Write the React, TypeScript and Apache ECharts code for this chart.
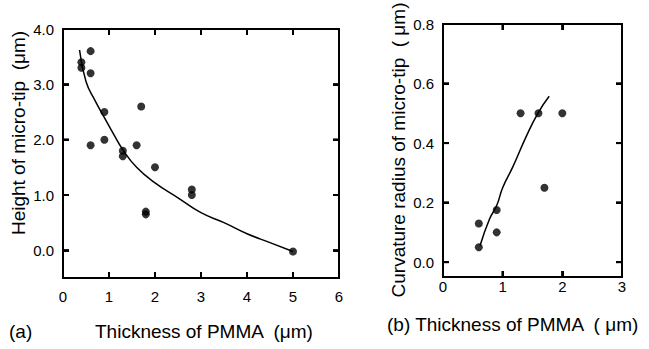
import React, { useEffect, useRef, useState } from "react";
import * as echarts from "echarts";

// Panel (a): height of micro-tip vs PMMA thickness
const heightPoints: [number, number][] = [
  [0.4, 3.4], [0.4, 3.3], [0.6, 3.6], [0.6, 3.2], [0.6, 1.9],
  [0.9, 2.5], [0.9, 2.0], [1.3, 1.8], [1.3, 1.7], [1.6, 1.9],
  [1.7, 2.6], [1.8, 0.7], [1.8, 0.65], [2.0, 1.5], [2.8, 1.1],
  [2.8, 1.0], [5.0, -0.02],
];
const heightCurve: [number, number][] = [
  [0.36, 3.62], [0.5, 3.05], [0.7, 2.7], [0.9, 2.4], [1.1, 2.1],
  [1.3, 1.82], [1.6, 1.5], [2.0, 1.22], [2.5, 0.95], [3.0, 0.68],
  [3.5, 0.5], [4.0, 0.3], [4.5, 0.14], [5.0, -0.02],
];
// Panel (b): curvature radius vs PMMA thickness
const radiusPoints: [number, number][] = [
  [0.6, 0.13], [0.6, 0.05], [0.9, 0.175], [0.9, 0.1],
  [1.3, 0.5], [1.6, 0.5], [1.7, 0.25], [2.0, 0.5],
];
const radiusCurve: [number, number][] = [
  [0.62, 0.055], [0.78, 0.145], [0.9, 0.19], [1.0, 0.25],
  [1.17, 0.32], [1.39, 0.42], [1.59, 0.5], [1.78, 0.557],
];

const thicknessTicksA = [0, 1, 2, 3, 4, 5, 6];
const thicknessTicksB = [0, 1, 2, 3];
const heightTicks = [0, 1, 2, 3, 4];
const radiusTicks = [0, 0.2, 0.4, 0.6, 0.8];

const FONT = "Liberation Sans, Arial, Helvetica, sans-serif";

const fmt1 = (v: any) => {
  const n = typeof v === "number" ? v : Number(v && v.value !== undefined ? v.value : v);
  return isFinite(n) ? n.toFixed(1) : String(v);
};

const frameRenderer = (xMin: number, xMax: number, yMin: number, yMax: number, xTicks: number[], yTicks: number[]) =>
  (_params: any, api: any) => {
    const p0 = api.coord([xMin, yMin]);
    const p1 = api.coord([xMax, yMax]);
    const left = p0[0], bottom = p0[1], right = p1[0], top = p1[1];
    const st = { stroke: "#000", lineWidth: 2 };
    const children: any[] = [
      { type: "rect", shape: { x: left, y: top, width: right - left, height: bottom - top }, style: { fill: "none", stroke: "#000", lineWidth: 2 } },
    ];
    xTicks.forEach((x) => {
      const px = api.coord([x, yMin])[0];
      children.push({ type: "line", shape: { x1: px, y1: bottom, x2: px, y2: bottom - 6 }, style: st });
      children.push({ type: "line", shape: { x1: px, y1: top, x2: px, y2: top + 6 }, style: st });
    });
    yTicks.forEach((y) => {
      const py = api.coord([xMin, y])[1];
      children.push({ type: "line", shape: { x1: left, y1: py, x2: left + 6, y2: py }, style: st });
      children.push({ type: "line", shape: { x1: right, y1: py, x2: right - 6, y2: py }, style: st });
    });
    return { type: "group", children };
  };

export default function App() {
  const ref = useRef<HTMLDivElement>(null);
  const [err, setErr] = useState("");
  useEffect(() => {
    if (!ref.current) return;
    const chart = echarts.init(ref.current, undefined, { renderer: "svg" });
    const tick = () => ({ show: true, inside: true, length: 6, lineStyle: { color: "#000", width: 2 } });
    const line = () => ({ show: true, onZero: false, lineStyle: { color: "#000", width: 2 } });
    const label = () => ({ color: "#000", fontSize: 15, fontFamily: FONT });
    const xBase = (gridIndex: number, max: number, position: string, showLabel: boolean, margin: number) => ({
      type: "value", gridIndex, min: 0, max, interval: 1, position,
      splitLine: { show: false }, axisLine: line(), axisTick: tick(),
      axisLabel: { ...label(), show: showLabel, margin },
    });
    const yBase = (gridIndex: number, min: number, max: number, ticks: number[], position: string, showLabel: boolean) => ({
      type: "value", gridIndex, min, max, position,
      splitLine: { show: false }, axisLine: line(),
      axisTick: { ...tick(), customValues: ticks.slice() },
      axisLabel: { ...label(), show: showLabel, margin: 9, customValues: ticks.slice(), formatter: fmt1 },
    });
    const textStyle = (t: string) => ({ text: t, fontSize: 19, fontFamily: FONT, fill: "#000" });
    const texts: any[] = [
      { type: "text", x: 18, y: 133, rotation: Math.PI / 2, style: { ...textStyle("Height of micro-tip  (\u03bcm)"), align: "center", verticalAlign: "middle" } },
      { type: "text", x: 398, y: 150, rotation: Math.PI / 2, style: { ...textStyle("Curvature radius of micro-tip  ( \u03bcm)"), align: "center", verticalAlign: "middle" } },
      { type: "text", x: 9, y: 331, style: { ...textStyle("(a)"), align: "left", verticalAlign: "middle" } },
      { type: "text", x: 95, y: 331, style: { ...textStyle("Thickness of PMMA  (\u03bcm)"), align: "left", verticalAlign: "middle" } },
      { type: "text", x: 387, y: 324, style: { ...textStyle("(b) Thickness of PMMA  ( \u03bcm)"), align: "left", verticalAlign: "middle" } },
    ];
    try {
      chart.setOption({
        animation: false,
        grid: [
          { left: 63, top: 29, width: 276, height: 249 },
          { left: 443, top: 24, width: 179, height: 253 },
        ],
        xAxis: [
          xBase(0, 6, "bottom", true, 11),
          xBase(0, 6, "top", false, 8),
          xBase(1, 3, "bottom", true, 2),
          xBase(1, 3, "top", false, 8),
        ],
        yAxis: [
          yBase(0, -0.5, 4, heightTicks, "left", true),
          yBase(0, -0.5, 4, heightTicks, "right", false),
          yBase(1, -0.05, 0.8, radiusTicks, "left", true),
          yBase(1, -0.05, 0.8, radiusTicks, "right", false),
        ],
        series: [
          { type: "line", xAxisIndex: 0, yAxisIndex: 0, data: heightCurve, smooth: true, clip: false, showSymbol: false, lineStyle: { color: "#000", width: 1.5 } },
          { type: "scatter", xAxisIndex: 0, yAxisIndex: 0, data: heightPoints, symbolSize: 8, itemStyle: { color: "#000" } },
          { type: "line", xAxisIndex: 2, yAxisIndex: 2, data: radiusCurve, smooth: true, clip: false, showSymbol: false, lineStyle: { color: "#000", width: 1.5 } },
          { type: "scatter", xAxisIndex: 2, yAxisIndex: 2, data: radiusPoints, symbolSize: 8, itemStyle: { color: "#000" } },
          { type: "custom", xAxisIndex: 0, yAxisIndex: 0, clip: false, silent: true, z: 10, data: [[0, -0.5]], renderItem: frameRenderer(0, 6, -0.5, 4, thicknessTicksA, heightTicks) },
          { type: "custom", xAxisIndex: 2, yAxisIndex: 2, clip: false, silent: true, z: 10, data: [[0, -0.05]], renderItem: frameRenderer(0, 3, -0.05, 0.8, thicknessTicksB, radiusTicks) },
        ],
        graphic: texts,
      });
    } catch (e: any) {
      setErr(String((e && e.message) || e));
    }
    // Redundant frame via graphic, positioned with the axes' own scales.
    try {
      const frames: any[] = [];
      const addFrame = (xi: number, yi: number, xMin: number, xMax: number, yMin: number, yMax: number, xt: number[], yt: number[]) => {
        const f = { xAxisIndex: xi, yAxisIndex: yi };
        const p0 = chart.convertToPixel(f, [xMin, yMin]) as number[];
        const p1 = chart.convertToPixel(f, [xMax, yMax]) as number[];
        if (!p0 || !p1) return;
        const left = p0[0], bottom = p0[1], right = p1[0], top = p1[1];
        const st = { stroke: "#000", lineWidth: 2 };
        frames.push({ type: "rect", z: 100, silent: true, shape: { x: left, y: top, width: right - left, height: bottom - top }, style: { fill: "none", stroke: "#000", lineWidth: 2 } });
        xt.forEach((x) => {
          const px = (chart.convertToPixel(f, [x, yMin]) as number[])[0];
          frames.push({ type: "line", z: 100, silent: true, shape: { x1: px, y1: bottom, x2: px, y2: bottom - 6 }, style: st });
          frames.push({ type: "line", z: 100, silent: true, shape: { x1: px, y1: top, x2: px, y2: top + 6 }, style: st });
        });
        yt.forEach((y) => {
          const py = (chart.convertToPixel(f, [xMin, y]) as number[])[1];
          frames.push({ type: "line", z: 100, silent: true, shape: { x1: left, y1: py, x2: left + 6, y2: py }, style: st });
          frames.push({ type: "line", z: 100, silent: true, shape: { x1: right, y1: py, x2: right - 6, y2: py }, style: st });
        });
      };
      addFrame(0, 0, 0, 6, -0.5, 4, thicknessTicksA, heightTicks);
      addFrame(2, 2, 0, 3, -0.05, 0.8, thicknessTicksB, radiusTicks);
      chart.setOption({ graphic: [...texts, ...frames] });
    } catch (e: any) {
      setErr((s) => s + " " + String((e && e.message) || e));
    }
    return () => chart.dispose();
  }, []);
  return (
    <div style={{ position: "absolute", left: 0, top: 0, width: 649, height: 349, background: "#fff" }}>
      <div ref={ref} style={{ width: 649, height: 349 }} />
      {err ? <div style={{ position: "absolute", left: 100, top: 5, fontSize: 9 }}>{err}</div> : null}
    </div>
  );
}
